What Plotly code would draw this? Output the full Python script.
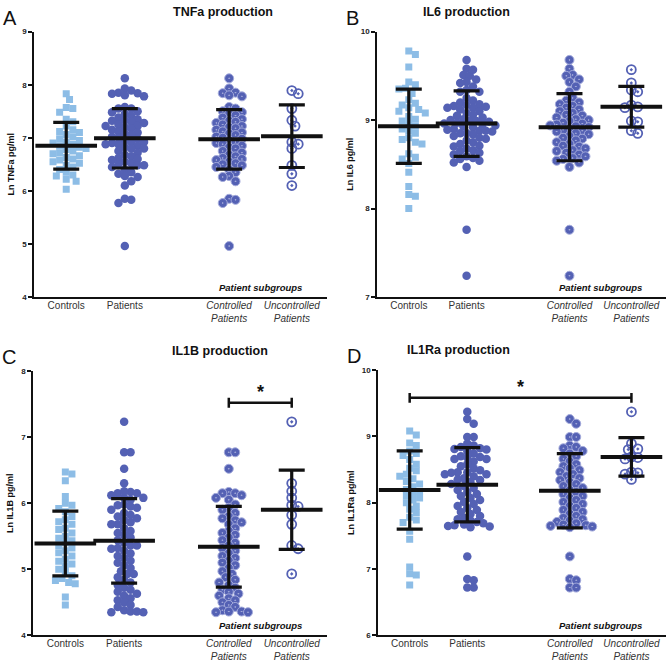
import plotly.graph_objects as go

# ---- data (Ln pg/ml) ----
groups = ["Controls", "Patients", "Controlled Patients", "Uncontrolled Patients"]
tick_text = ["Controls", "Patients", "<i>Controlled<br>Patients</i>", "<i>Uncontrolled<br>Patients</i>"]
group_x = [1, 2, 3.78, 4.85]

ctrl_tnf = [7.83, 7.72, 7.57, 7.55, 7.48, 7.35, 7.30, 7.22, 7.15, 7.12, 7.10, 7.06, 7.02, 6.98,
            6.95, 6.92, 6.90, 6.88, 6.85, 6.82, 6.80, 6.78, 6.75, 6.72, 6.70, 6.66, 6.63, 6.60,
            6.58, 6.55, 6.52, 6.48, 6.45, 6.40, 6.35, 6.30, 6.28, 6.22, 6.18, 6.03]
contr_tnf = [8.12, 7.93, 7.85, 7.84, 7.80, 7.78, 7.58, 7.55, 7.50, 7.48, 7.45, 7.42, 7.38, 7.35,
             7.32, 7.30, 7.28, 7.25, 7.22, 7.20, 7.18, 7.15, 7.12, 7.10, 7.08, 7.05, 7.02, 7.00,
             6.98, 6.95, 6.92, 6.90, 6.88, 6.85, 6.82, 6.80, 6.75, 6.72, 6.68, 6.65, 6.62, 6.60,
             6.58, 6.55, 6.52, 6.50, 6.48, 6.45, 6.40, 6.35, 6.28, 6.26, 6.18, 5.85, 5.83, 5.77, 4.96]
unc_tnf = [7.89, 7.83, 7.55, 7.33, 7.22, 6.92, 6.88, 6.80, 6.48, 6.32, 6.10]
mean_tnf = [6.85, 6.99, 6.97, 7.03]
sd_tnf = [0.44, 0.56, 0.56, 0.59]

ctrl_il6 = [9.78, 9.74, 9.60, 9.43, 9.40, 9.36, 9.35, 9.30, 9.23, 9.19, 9.17, 9.14, 9.12, 9.10,
            9.08, 9.04, 9.01, 8.99, 8.96, 8.93, 8.90, 8.88, 8.85, 8.80, 8.78, 8.75, 8.73, 8.62,
            8.58, 8.56, 8.51, 8.41, 8.25, 8.16, 8.14, 8.00]
contr_il6 = [9.68, 9.58, 9.51, 9.50, 9.46, 9.43, 9.38, 9.32, 9.25, 9.22, 9.20, 9.18, 9.16, 9.14,
             9.12, 9.10, 9.08, 9.06, 9.05, 9.03, 9.01, 9.00, 8.99, 8.97, 8.96, 8.95, 8.94, 8.93,
             8.92, 8.90, 8.89, 8.88, 8.87, 8.85, 8.84, 8.82, 8.80, 8.79, 8.77, 8.75, 8.73, 8.71,
             8.70, 8.68, 8.66, 8.65, 8.63, 8.61, 8.59, 8.57, 8.56, 8.54, 8.52, 8.47, 7.76, 7.24]
unc_il6 = [9.57, 9.42, 9.34, 9.32, 9.17, 9.15, 9.14, 8.99, 8.98, 8.88, 8.85]
mean_il6 = [8.93, 8.96, 8.92, 9.15]
sd_il6 = [0.42, 0.37, 0.38, 0.23]

ctrl_il1b = [6.47, 6.44, 6.34, 6.10, 6.00, 5.97, 5.92, 5.87, 5.80, 5.75, 5.72, 5.68, 5.62, 5.60,
             5.55, 5.50, 5.47, 5.43, 5.40, 5.36, 5.32, 5.28, 5.25, 5.20, 5.15, 5.12, 5.08, 5.05,
             5.00, 4.95, 4.90, 4.86, 4.83, 4.80, 4.78, 4.58, 4.46]
contr_il1b = [6.77, 6.77, 6.52, 6.17, 6.15, 6.15, 6.12, 6.08, 6.05, 5.98, 5.93, 5.90, 5.85, 5.80,
              5.77, 5.74, 5.71, 5.68, 5.62, 5.58, 5.55, 5.52, 5.48, 5.44, 5.40, 5.36, 5.32, 5.28,
              5.24, 5.20, 5.17, 5.13, 5.10, 5.06, 5.02, 4.97, 4.93, 4.88, 4.84, 4.80, 4.76, 4.72,
              4.69, 4.66, 4.63, 4.60, 4.56, 4.53, 4.50, 4.46, 4.43, 4.38, 4.36, 4.36, 4.35, 4.35]
unc_il1b = [7.23, 6.30, 6.18, 6.08, 5.97, 5.95, 5.82, 5.68, 5.36, 5.31, 4.93]
mean_il1b = [5.39, 5.43, 5.34, 5.90]
sd_il1b = [0.49, 0.64, 0.61, 0.60]

ctrl_il1ra = [9.08, 9.02, 8.90, 8.86, 8.78, 8.74, 8.71, 8.65, 8.58, 8.52, 8.48, 8.43, 8.40, 8.36,
              8.32, 8.28, 8.24, 8.20, 8.17, 8.14, 8.10, 8.07, 8.04, 8.00, 7.95, 7.90, 7.85, 7.78,
              7.74, 7.70, 7.57, 7.45, 7.03, 6.93, 6.91, 6.76]
contr_il1ra = [9.26, 9.19, 8.99, 8.99, 8.86, 8.84, 8.82, 8.78, 8.74, 8.70, 8.66, 8.62, 8.58, 8.55,
               8.52, 8.49, 8.46, 8.43, 8.40, 8.37, 8.34, 8.31, 8.28, 8.25, 8.22, 8.19, 8.16, 8.13,
               8.10, 8.07, 8.04, 8.01, 7.98, 7.95, 7.92, 7.89, 7.86, 7.83, 7.80, 7.77, 7.75, 7.73,
               7.71, 7.69, 7.67, 7.66, 7.65, 7.64, 7.63, 7.19, 6.85, 6.83, 6.72, 6.72]
unc_il1ra = [9.37, 8.89, 8.81, 8.80, 8.69, 8.68, 8.66, 8.46, 8.45, 8.43, 8.35]
mean_il1ra = [8.19, 8.27, 8.18, 8.69]
sd_il1ra = [0.59, 0.56, 0.56, 0.29]

# significance brackets: (group a, group b, height)
sig_il1b = [(2, 3, 7.52)]
sig_il1ra = [(0, 3, 9.58)]

# ---- layout ----
W, H = 667, 666
FONT = "Arial, Liberation Sans, sans-serif"
BLUE = "#5461b4"
LIGHT = "#8dbde6"
X_RANGE = [0.45, 5.45]

panels = [
    dict(letter="A", title="TNFa production", ylab="Ln TNFa pg/ml", yr=[4, 9],
         px=(34, 327), py=(28, 297), data=(ctrl_tnf, contr_tnf, unc_tnf), mean=mean_tnf, sd=sd_tnf, sig=[]),
    dict(letter="B", title="IL6 production", ylab="Ln IL6 pg/ml", yr=[7, 10],
         px=(377, 666), py=(28, 297), data=(ctrl_il6, contr_il6, unc_il6), mean=mean_il6, sd=sd_il6, sig=[]),
    dict(letter="C", title="IL1B production", ylab="Ln IL1B pg/ml", yr=[4, 8],
         px=(33, 327), py=(372, 640), data=(ctrl_il1b, contr_il1b, unc_il1b), mean=mean_il1b, sd=sd_il1b, sig=sig_il1b),
    dict(letter="D", title="IL1Ra production", ylab="Ln IL1Ra pg/ml", yr=[6, 10],
         px=(378, 666), py=(371, 640), data=(ctrl_il1ra, contr_il1ra, unc_il1ra), mean=mean_il1ra, sd=sd_il1ra, sig=sig_il1ra),
]

styles = [
    dict(symbol="square", size=7, color=LIGHT, line=dict(width=0)),
    dict(symbol="circle", size=8.5, color=BLUE, line=dict(width=0)),
    dict(symbol="circle-dot", size=9, color=BLUE, line=dict(width=1, color="#a3aadb")),
    dict(symbol="circle-open-dot", size=9, color=BLUE, line=dict(width=1.8, color=BLUE)),
]


def swarm(vals, cx, ppx, ppy, d):
    # simple beeswarm: place each point at the smallest free horizontal offset
    cands = [0.0]
    for k in range(1, 80):
        cands += [k * d * 0.5, -k * d * 0.5]
    order = sorted(range(len(vals)), key=lambda i: -vals[i])
    placed = []
    xs = [cx] * len(vals)
    for i in order:
        y = vals[i] * ppy
        for off in cands:
            if all((off - a) ** 2 + (y - b) ** 2 >= d * d for a, b in placed):
                break
        placed.append((off, y))
        xs[i] = cx + off / ppx
    return xs


fig = go.Figure()
annotations = []
layout_axes = {}

for n, p in enumerate(panels):
    sfx = "" if n == 0 else str(n + 1)
    xa, ya = "x" + sfx, "y" + sfx
    ppx = (p["px"][1] - p["px"][0]) / (X_RANGE[1] - X_RANGE[0])
    ppy = (p["py"][1] - p["py"][0]) / (p["yr"][1] - p["yr"][0])
    ctrl, contr, unc = p["data"]
    series = [ctrl, contr + unc, contr, unc]

    for g, vals in enumerate(series):
        xs = swarm(vals, group_x[g], ppx, ppy, 6.6 if g == 0 else 6.4)
        fig.add_trace(go.Scatter(x=xs, y=vals, mode="markers", marker=styles[g],
                                 xaxis=xa, yaxis=ya, showlegend=False, hoverinfo="y", name=groups[g]))

    # mean +/- SD
    fig.add_trace(go.Scatter(
        x=group_x, y=p["mean"], mode="markers", xaxis=xa, yaxis=ya, showlegend=False,
        marker=dict(symbol="line-ew", size=44, line=dict(width=4, color="#111")),
        error_y=dict(type="data", array=p["sd"], color="#111", thickness=3.2, width=13),
    ))

    for a, b, h in p["sig"]:
        fig.add_trace(go.Scatter(
            x=[group_x[a], group_x[b]], y=[h, h], mode="lines", xaxis=xa, yaxis=ya, showlegend=False,
            line=dict(color="#111", width=2.5),
            error_y=dict(type="constant", value=5 / ppy, color="#111", thickness=2.5, width=0),
        ))
        annotations.append(dict(x=(group_x[a] + group_x[b]) / 2, y=h, xref=xa, yref=ya, text="<b>*</b>",
                                showarrow=False, yanchor="bottom", yshift=-1, font=dict(size=18, color="#111")))

    layout_axes["xaxis" + sfx] = dict(
        domain=[p["px"][0] / W, p["px"][1] / W], range=X_RANGE, anchor=ya,
        showline=True, linecolor="#111", linewidth=1.5, showgrid=False, zeroline=False,
        tickvals=group_x, ticktext=tick_text, ticks="", ticklabelstandoff=-2,
        tickfont=dict(family=FONT, size=10, color="#333"),
    )
    layout_axes["yaxis" + sfx] = dict(
        domain=[1 - p["py"][1] / H, 1 - p["py"][0] / H], range=p["yr"], anchor=xa,
        showline=True, linecolor="#111", linewidth=1.5, showgrid=False, zeroline=False,
        dtick=1, ticks="outside", ticklen=4, tickwidth=1.5, tickcolor="#111",
        tickfont=dict(family=FONT, size=8, color="#222", weight="bold"),
        title=dict(text=p["ylab"], font=dict(family=FONT, size=9, color="#111", weight="bold"), standoff=6),
    )

    mid = (p["px"][0] + p["px"][1]) / 2 - 10
    annotations.append(dict(x=mid / W, y=1 - (p["py"][0] - 20) / H, xref="paper", yref="paper",
                            text="<b>" + p["title"] + "</b>", showarrow=False, yanchor="middle",
                            font=dict(family=FONT, size=12.5, color="#111")))
    annotations.append(dict(x=(p["px"][0] - 33) / W, y=1 - (p["py"][0] - 27) / H, xref="paper", yref="paper",
                            text=p["letter"], showarrow=False, xanchor="left", yanchor="top",
                            font=dict(family=FONT, size=20, color="#111")))
    annotations.append(dict(x=(group_x[2] + group_x[3]) / 2, y=0, xref=xa, yref=ya + " domain",
                            text="<b><i>Patient subgroups</i></b>", showarrow=False, yanchor="bottom", yshift=2,
                            font=dict(family=FONT, size=9.5, color="#111")))

fig.update_layout(
    width=W, height=H, margin=dict(l=0, r=0, t=0, b=0),
    paper_bgcolor="white", plot_bgcolor="white",
    font=dict(family=FONT), annotations=annotations, **layout_axes,
)

# drop the default page margin so the figure sits at the window's corner
fig.write_html("out.html", config={"displayModeBar": False},
               post_script="document.body.style.margin='0';")
